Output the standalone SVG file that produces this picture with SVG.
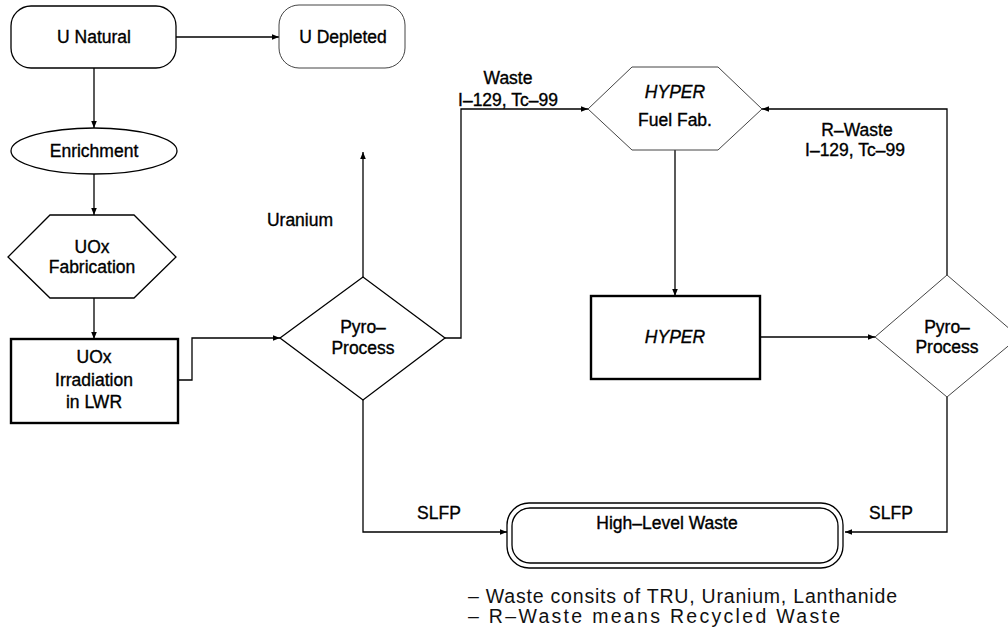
<svg xmlns="http://www.w3.org/2000/svg" width="1008" height="627" viewBox="0 0 1008 627">
<defs>
<marker id="arr" viewBox="0 0 10 10" refX="10" refY="5" markerWidth="9" markerHeight="7" markerUnits="userSpaceOnUse" orient="auto">
<path d="M0,1 L10,5 L0,9 z" fill="#000"/>
</marker>
<style>
.t{font-family:"Liberation Sans",Arial,sans-serif;font-size:17.5px;fill:#000;stroke:#000;stroke-width:0.35;text-anchor:middle}
.i{font-style:italic}
.n{font-family:"Liberation Sans",Arial,sans-serif;font-size:19.5px;fill:#111}
.s{fill:#fff;stroke:#000;stroke-width:1.3}
.l{fill:#fff;stroke:#444;stroke-width:1}
.k{fill:#fff;stroke:#000;stroke-width:2.4}
.c{fill:none;stroke:#000;stroke-width:1.3}
</style>
</defs>
<rect width="1008" height="627" fill="#fff"/>
<g id="connectors">
<path class="c" d="M176,37 H279" marker-end="url(#arr)"/>
<path class="c" d="M94,68 V128" marker-end="url(#arr)"/>
<path class="c" d="M94,174 V215" marker-end="url(#arr)"/>
<path class="c" d="M94,298 V339" marker-end="url(#arr)"/>
<path class="c" d="M178,380 H192 V338 H280" marker-end="url(#arr)"/>
<path class="c" d="M363,277 V152" marker-end="url(#arr)"/>
<path class="c" d="M445,338 H461 V109 H588" marker-end="url(#arr)"/>
<path class="c" d="M363,400 V532 H507" marker-end="url(#arr)"/>
<path class="c" d="M675,150 V296" marker-end="url(#arr)"/>
<path class="c" d="M760,337 H875" marker-end="url(#arr)"/>
<path class="c" d="M947,275 V109 H762" marker-end="url(#arr)"/>
<path class="c" d="M947,397 V532 H845" marker-end="url(#arr)"/>
<text class="t" x="300" y="226">Uranium</text>
<text class="t" x="508" y="84">Waste</text>
<text class="t" x="508" y="106">I–129, Tc–99</text>
<text class="t" x="857" y="136">R–Waste</text>
<text class="t" x="855" y="156">I–129, Tc–99</text>
<text class="t" x="439" y="519">SLFP</text>
<text class="t" x="891" y="519">SLFP</text>
</g>
<g id="u-natural">
<rect class="s" x="11" y="6" width="165" height="62" rx="20"/>
<text class="t" x="94" y="43">U Natural</text>
</g>
<g id="u-depleted">
<rect class="l" x="279" y="5" width="126" height="63" rx="20"/>
<text class="t" x="343" y="43">U Depleted</text>
</g>
<g id="enrichment">
<ellipse class="s" cx="94" cy="151" rx="83" ry="23"/>
<text class="t" x="94" y="157">Enrichment</text>
</g>
<g id="uox-fabrication">
<polygon class="s" points="8,257 50,215 134,215 176,257 134,298 50,298"/>
<text class="t" x="92" y="253">UOx</text>
<text class="t" x="92" y="273">Fabrication</text>
</g>
<g id="uox-irradiation">
<rect class="k" x="11" y="339" width="167" height="84"/>
<text class="t" x="94" y="363">UOx</text>
<text class="t" x="94" y="386">Irradiation</text>
<text class="t" x="94" y="408">in LWR</text>
</g>
<g id="pyro-1">
<polygon class="s" points="280,338 363,277 445,338 363,400"/>
<text class="t" x="363" y="333">Pyro–</text>
<text class="t" x="363" y="354">Process</text>
</g>
<g id="hyper-fuel-fab">
<polygon class="l" points="588,109 632,67 718,67 762,109 718,150 632,150"/>
<text class="t i" x="675" y="98">HYPER</text>
<text class="t" x="675" y="126">Fuel Fab.</text>
</g>
<g id="hyper">
<rect class="k" x="591" y="296" width="169" height="83"/>
<text class="t i" x="675" y="343">HYPER</text>
</g>
<g id="pyro-2">
<polygon class="l" points="875,337 947,275 1019,337 947,397"/>
<text class="t" x="947" y="333">Pyro–</text>
<text class="t" x="947" y="353">Process</text>
</g>
<g id="high-level-waste">
<rect class="s" x="507" y="503" width="336" height="65" rx="22"/>
<rect class="s" x="512" y="508" width="326" height="55" rx="18"/>
<text class="t" x="667" y="529">High–Level Waste</text>
</g>
<g id="notes">
<text class="n" x="468" y="603" textLength="429" lengthAdjust="spacing">– Waste consits of TRU, Uranium, Lanthanide</text>
<text class="n" x="468" y="623" textLength="372" lengthAdjust="spacing">– R–Waste means Recycled Waste</text>
</g>
</svg>
